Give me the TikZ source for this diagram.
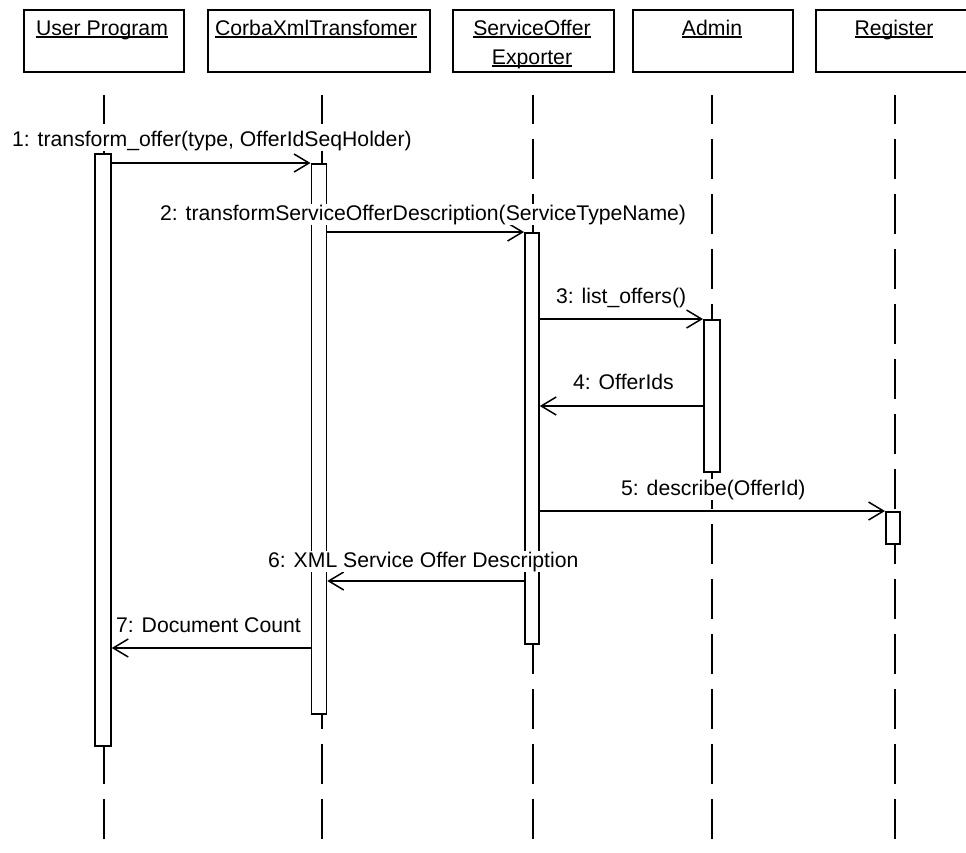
\documentclass[tikz,border=0pt]{standalone}
\usepackage{fontspec}
\setmainfont{Liberation Sans}
\usetikzlibrary{arrows.meta,calc}

% underlined object name, rule crossing the descenders
\newcommand\ultext[1]{\setbox0\hbox{#1}\rlap{\rule[-2.5pt]{\wd0}{1.3pt}}\box0}

\tikzset{
  every node/.style={font=\fontsize{21.2}{25}\selectfont},
  headbox/.style={draw, line width=1.8pt, rectangle, inner sep=0pt, minimum height=62},
  headtext/.style={anchor=base, inner sep=0pt},
  lifeline/.style={line width=1.7pt, dash pattern=on 40pt off 15pt, dash phase=11pt},
  actbar/.style={draw, fill=white, line width=1.8pt, rectangle, inner sep=0pt, anchor=north west},
  msg/.style={line width=1.7pt, -{Straight Barb[length=15pt,width=18pt,line width=1.5pt]}},
  msglabel/.style={anchor=base west, fill=white, inner sep=1pt},
}

\begin{document}
\begin{tikzpicture}[x=1pt, y=-1pt]
\clip (0,0) rectangle (966,852);
\fill[white] (0,0) rectangle (966,852);

% object headers
\node[headbox, anchor=north west, minimum width=160] (hU) at (23,9) {};
\node[headbox, anchor=north west, minimum width=222] (hC) at (207,9) {};
\node[headbox, anchor=north west, minimum width=161] (hS) at (452,9) {};
\node[headbox, anchor=north west, minimum width=160] (hA) at (632,9) {};
\node[headbox, anchor=north west, minimum width=160] (hR) at (815,9) {};

\node[headtext] (tU) at (102,35) {\ultext{User Program}};
\node[headtext] (tC) at (316,35) {\ultext{CorbaXmlTransfomer}};
\node[headtext] (tS1) at (532,35) {\ultext{ServiceOffer}};
\node[headtext] (tS2) at (532,64) {\ultext{Exporter}};
\node[headtext] (tA) at (712,35) {\ultext{Admin}};
\node[headtext] (tR) at (894,35) {\ultext{Register}};

% lifelines
\draw[lifeline] (hU.south -| 104,0) ++(0,22) -- ++(0,770);
\draw[lifeline] (hC.south -| 322,0) ++(0,22) -- ++(0,770);
\draw[lifeline] (hS.south -| 533,0) ++(0,22) -- ++(0,770);
\draw[lifeline] (hA.south -| 712,0) ++(0,22) -- ++(0,770);
\draw[lifeline] (hR.south -| 895,0) ++(0,22) -- ++(0,770);

% activation bars
\node[actbar, minimum width=16, minimum height=592] (bU) at (94,153) {};
\node[actbar, minimum width=15, minimum height=550] (bC) at (310.5,163) {};
\node[actbar, minimum width=14, minimum height=411] (bS) at (524,232) {};
\node[actbar, minimum width=16, minimum height=152] (bA) at (703,319) {};
\node[actbar, minimum width=14, minimum height=32] (bR) at (885,511) {};

% message rows
\coordinate (y1) at (0,163);
\coordinate (y2) at (0,232);
\coordinate (y3) at (0,319);
\coordinate (y4) at (0,406);
\coordinate (y5) at (0,511);
\coordinate (y6) at (0,581);
\coordinate (y7) at (0,648);

% messages
\draw[msg] (bU.east |- y1) -- (bC.west |- y1);
\draw[msg] (bC.east |- y2) -- (bS.west |- y2);
\draw[msg] (bS.east |- y3) -- (bA.west |- y3);
\draw[msg] (bA.west |- y4) -- (bS.east |- y4);
\draw[msg] (bS.east |- y5) -- (bR.west |- y5);
\draw[msg] (bS.west |- y6) -- (bC.east |- y6);
\draw[msg] (bC.west |- y7) -- (bU.east |- y7);

% message labels
\node[msglabel] (l1) at (11,146) {1: transform\_offer(type, OfferIdSeqHolder)};
\node[msglabel] (l2) at (159,220) {2: transformServiceOfferDescription(ServiceTypeName)};
\node[msglabel] (l3) at (555,303) {3: list\_offers()};
\node[msglabel] (l4) at (572,389) {4: OfferIds};
\node[msglabel] (l5) at (620,495) {5: describe(OfferId)};
\node[msglabel] (l6) at (267,567) {6: XML Service Offer Description};
\node[msglabel] (l7) at (115,632) {7: Document Count};
\end{tikzpicture}
\end{document}
